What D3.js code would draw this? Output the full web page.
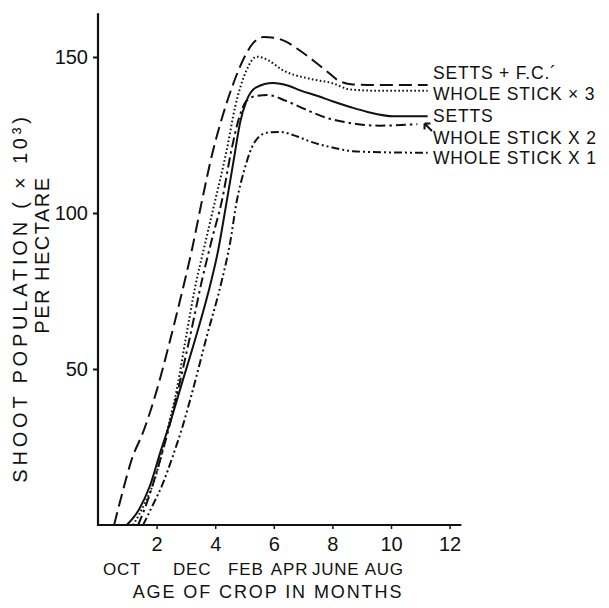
<!DOCTYPE html>
<html>
<head>
<meta charset="utf-8">
<script src="https://cdn.jsdelivr.net/npm/d3@7"></script>
<style>
  body { margin: 0; background: #fff; }
  text { font-family: "Liberation Sans", Arial, Helvetica, sans-serif; fill: #111; }
</style>
</head>
<body>
<svg id="chart" width="609" height="608"></svg>
<script>
// values: age in months, shoots (x 1000) per hectare
var settsFcMonths = [0.55, 0.85, 1.15, 1.55, 2.0, 2.4, 2.8, 3.2, 3.55, 3.9, 4.25, 4.6, 5.0, 5.3, 5.65, 6.0, 6.4, 6.9, 7.4, 7.8, 8.2, 8.7, 9.5, 10.5, 11.25]
var settsFcValues = [0, 11, 21, 30, 43, 57, 72, 88, 104, 119, 131, 141, 150, 154.5, 156.4, 156.2, 155, 152, 148.5, 145.5, 142.5, 141.2, 141, 141, 141]

var stick3Months = [1.2, 1.6, 1.95, 2.3, 2.7, 3.0, 3.31, 3.65, 4.0, 4.39, 4.68, 5.07, 5.42, 5.8, 6.3, 7.24, 8.0, 8.6, 9.5, 11.25]
var stick3Values = [0, 7, 15, 28, 44, 60, 76, 90, 104, 120, 134, 145.8, 150.1, 149, 145.8, 143, 141.6, 139.6, 139.2, 139.2]

var settsMonths = [0.98, 1.4, 1.77, 2.15, 2.5, 2.85, 3.3, 3.75, 4.1, 4.38, 4.65, 4.85, 5.07, 5.4, 5.97, 6.5, 6.9, 7.5, 8.0, 8.6, 9.2, 10.1, 11.25]
var settsValues = [0, 5, 12.5, 24, 34, 45, 59, 74, 88, 103, 118, 129, 136, 140.3, 141.7, 140.8, 139.3, 137.5, 135.8, 134, 132.4, 131, 131]

var stick2Months = [1.37, 1.7, 2.0, 2.39, 2.8, 3.2, 3.55, 3.9, 4.23, 4.55, 4.8, 5.07, 5.4, 5.8, 6.4, 7.13, 7.8, 8.5, 9.6, 10.9]
var stick2Values = [0, 8, 17, 30, 46, 63, 78.5, 92, 104, 120, 130, 136, 137.5, 137.8, 136, 133, 130.5, 129, 128, 128.5]

var stick1Months = [1.54, 1.85, 2.2, 2.55, 2.9, 3.2, 3.7, 4.23, 4.5, 4.74, 5.0, 5.25, 5.5, 5.8, 6.2, 6.8, 7.3, 8.0, 8.7, 9.6, 11.25]
var stick1Values = [0, 6, 13, 22, 32, 42, 60, 78.5, 90, 104, 114, 121, 124.5, 125.8, 126, 124.5, 122.7, 121, 119.8, 119.5, 119.3]

var seriesNames = ['SETTS + F.C.\u00b4', 'WHOLE STICK \u00d7 3', 'SETTS', 'WHOLE STICK X 2', 'WHOLE STICK X 1']
var xTicks = [2, 4, 6, 8, 10, 12]
var yTicks = [50, 100, 150]
var monthNames = ['OCT', 'DEC', 'FEB', 'APR', 'JUNE', 'AUG']

// layout
var monthNameStart = [0.17, 2.56, 4.44, 5.9, 7.3, 9.1]
var dashes = ['13,6', '1.6,2.4', null, '10,4,2.5,4', '8,3,2,3,2,3']
var labelY = [72.5, 94, 116, 138, 158]

var svg = d3.select('#chart')

var x = d3.scaleLinear().domain([0, 12]).range([98, 98 + 12*29.3])
var y = d3.scaleLinear().domain([0, 150]).range([525, 525 - 150*3.12])

var series = [
  [settsFcMonths, settsFcValues],
  [stick3Months, stick3Values],
  [settsMonths, settsValues],
  [stick2Months, stick2Values],
  [stick1Months, stick1Values]
].map(function(s, i){
  return {name: seriesNames[i], dash: dashes[i], pts: s[0].map(function(m, j){return [m, s[1][j]]})}
})

// axes
var yAxis = svg.append('g')
  .attr('transform', 'translate(' + x(0) + ',0)')
  .call(d3.axisLeft(y).tickValues(yTicks).tickSize(5).tickPadding(5))
yAxis.select('.domain').remove()
yAxis.selectAll('line').attr('stroke', '#111').attr('stroke-width', 2)
yAxis.selectAll('text').attr('font-size', 20).attr('font-family', null)

svg.append('line')
  .attr('x1', x(0)).attr('x2', x(0))
  .attr('y1', y(0) + 1).attr('y2', y(164))
  .attr('stroke', '#111').attr('stroke-width', 2.2)

var xAxis = svg.append('g')
  .attr('transform', 'translate(0,' + y(0) + ')')
  .call(d3.axisBottom(x).tickValues(xTicks).tickSize(4).tickPadding(8))
xAxis.select('.domain').remove()
xAxis.selectAll('line').attr('stroke', '#111').attr('stroke-width', 1.5)
xAxis.selectAll('text').attr('font-size', 20).attr('font-family', null)

svg.append('line')
  .attr('x1', x(0) - 1).attr('x2', x(12.4))
  .attr('y1', y(0)).attr('y2', y(0))
  .attr('stroke', '#111').attr('stroke-width', 2.2)

// curves
var line = d3.line()
  .x(function(d){return x(d[0])})
  .y(function(d){return y(d[1])})
  .curve(d3.curveMonotoneX)

svg.selectAll('.curve').data(series)
  .enter().append('path')
  .classed('curve', true)
  .attr('d', function(d){return line(d.pts)})
  .attr('fill', 'none')
  .attr('stroke', '#111')
  .attr('stroke-width', 2)
  .attr('stroke-dasharray', function(d){return d.dash})

// labels at line ends
svg.selectAll('.lbl').data(series)
  .enter().append('text')
  .classed('lbl', true)
  .attr('x', 433)
  .attr('y', function(d, i){return labelY[i]})
  .attr('dy', '0.36em')
  .attr('font-size', 17.5)
  .attr('letter-spacing', 0.8)
  .text(function(d){return d.name})

// arrow from 'WHOLE STICK X 2' to its curve
svg.append('path')
  .attr('d', 'M432,131 L424.5,123.5 M424.5,123.5 l0,6 M424.5,123.5 l6,0')
  .attr('stroke', '#111').attr('stroke-width', 2).attr('fill', 'none')

// month names under the ticks
svg.selectAll('.mon').data(monthNames)
  .enter().append('text')
  .classed('mon', true)
  .attr('x', function(d, i){return x(monthNameStart[i])})
  .attr('y', 575)
  .attr('font-size', 17)
  .attr('letter-spacing', 0.8)
  .text(function(d){return d})

svg.append('text')
  .attr('x', 268).attr('y', 598)
  .attr('text-anchor', 'middle')
  .attr('font-size', 18)
  .attr('letter-spacing', 1.9)
  .text('AGE OF CROP IN MONTHS')

svg.append('text')
  .attr('transform', 'translate(27,298) rotate(-90)')
  .attr('text-anchor', 'middle')
  .attr('font-size', 20)
  .attr('letter-spacing', 3.8)
  .text('SHOOT POPULATION ( \u00d7 10\u00b3)')

svg.append('text')
  .attr('transform', 'translate(48.5,255) rotate(-90)')
  .attr('text-anchor', 'middle')
  .attr('font-size', 20)
  .attr('letter-spacing', 1.5)
  .text('PER HECTARE')
</script>
</body>
</html>
